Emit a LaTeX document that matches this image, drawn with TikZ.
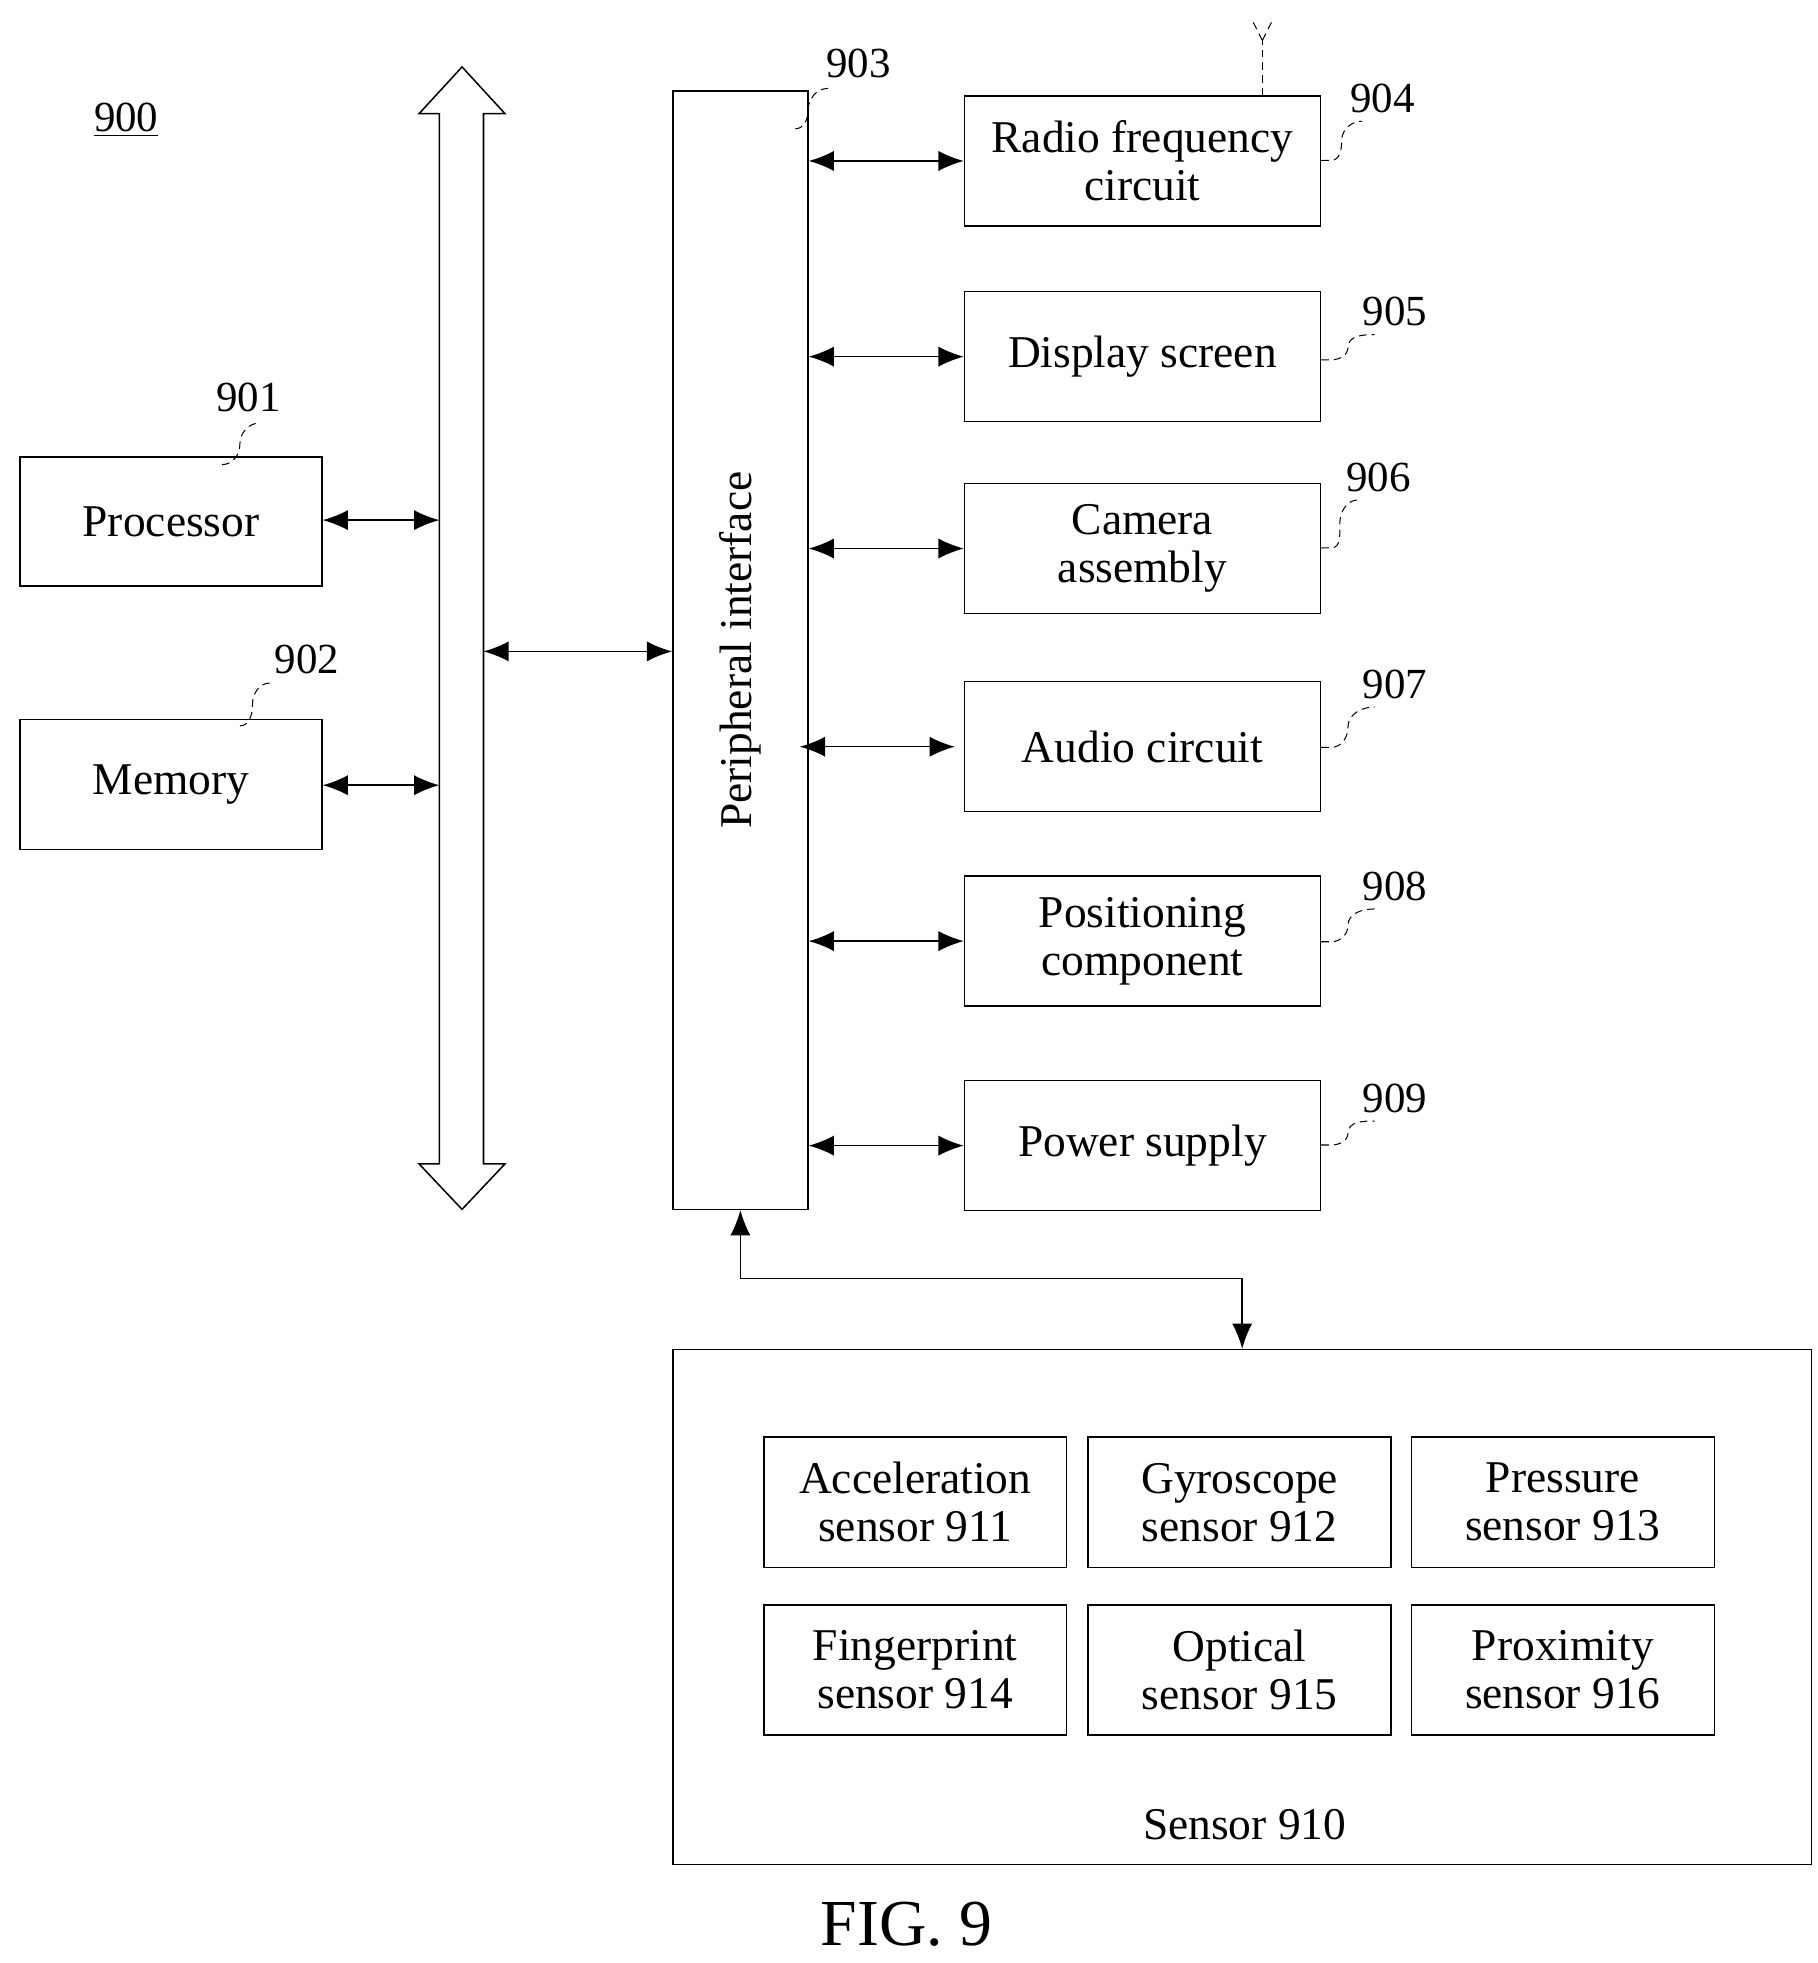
\documentclass[tikz,border=0pt]{standalone}
\usepackage{fontspec}
\setmainfont{Liberation Serif}
\usetikzlibrary{arrows.meta,calc}
\tikzset{%
	% Style of the block
	Block/.style={draw=black,semithick,align=center,inner sep=0,font=\fontsize{18}{19}\selectfont},
	% Style of the reference number
	RefName/.style={font=\fontsize{17}{18}\selectfont},
	% Style of the reference leader
	Leader/.style={densely dashed,thin},
	% Style of the connection
	Connection/.style={semithick,{Latex[length=10pt,width=8pt]}-{Latex[length=10pt,width=8pt]}},
}
\begin{document}
\begin{tikzpicture}[x=0.5pt,y=-0.5pt]
\useasboundingbox (0,0) rectangle (1440,1555);

%~~~~~~~~~~~~~~~~~~~~~~~~~~~~~~~~~~~~~~~~~~~~~~~~~~
% Set Blocks
%~~~~~~~~~~~~~~~~~~~~~~~~~~~~~~~~~~~~~~~~~~~~~~~~~~
\node[RefName] (L900) at (100,95) {\underline{900}};

\node[Block,minimum width=119.5pt,minimum height=51pt] (Proc) at (135.5,413) {Processor};
\node[Block,minimum width=119.5pt,minimum height=51.5pt] (Mem) at (135.5,621.5) {Memory};
\node[Block,minimum width=53.5pt,minimum height=443pt] (Peri) at (586.5,515) {};
\node[rotate=90,font=\fontsize{18}{19}\selectfont] at (Peri.center) {Peripheral interface};

% bus
\draw[semithick] (348,90) -- (348,922) -- (332,922) -- (366,958) -- (400,922) -- (383,922)
  -- (383,90) -- (400,90) -- (366,53) -- (332,90) -- cycle;
\coordinate (BusL1) at (348,412);
\coordinate (BusL2) at (348,622);
\coordinate (BusR) at (383,516);

\foreach \n/\y/\t in {904/127.5/{Radio frequency\\circuit},905/282.5/Display screen,
  906/434.5/{Camera\\assembly},907/591.5/Audio circuit,908/745.5/{Positioning\\component},
  909/907.5/Power supply}
  \node[Block,minimum width=141pt,minimum height=51.5pt] (B\n) at (905,\y) {\t};

\node[Block,minimum width=451pt,minimum height=204pt] (Sens) at (984,1273) {};
\node[font=\fontsize{18}{19}\selectfont] (SensName) at (986,1445) {Sensor 910};

\foreach \n/\x/\y/\t in {911/725/1190/Acceleration,912/982/1190/Gyroscope,913/1238/1190/Pressure,
  914/725/1323/Fingerprint,915/982/1323/Optical,916/1238/1323/Proximity}
  \node[Block,minimum width=120pt,minimum height=51.5pt] (S\n) at (\x,\y) {\t\\sensor \n};

\node[font=\fontsize{26}{28}\selectfont] (Fig) at (718,1524) {FIG. 9};

%~~~~~~~~~~~~~~~~~~~~~~~~~~~~~~~~~~~~~~~~~~~~~~~~~~
% Set Connections
%~~~~~~~~~~~~~~~~~~~~~~~~~~~~~~~~~~~~~~~~~~~~~~~~~~
\draw[Connection] (Proc.east |- BusL1) -- (BusL1);
\draw[Connection] (Mem.east |- BusL2) -- (BusL2);
\draw[Connection] (BusR) -- (Peri.west |- BusR);
\foreach \n in {904,905,906,908,909}
  \draw[Connection] (Peri.east |- B\n) -- (B\n.west);
\draw[Connection] ([xshift=-3.5pt]Peri.east |- B907) -- ([xshift=-3.5pt]B907.west);
\draw[Connection] (Peri.south) -- ++(0,54) -| (Sens.north);

% antenna
\draw[Leader] (B904.north -| 1000,0) -- (1000,32);
\draw[Leader] (1000,32) -- (992,16) (1000,32) -- (1008,16);

%~~~~~~~~~~~~~~~~~~~~~~~~~~~~~~~~~~~~~~~~~~~~~~~~~~
% Set Reference Numbers
%~~~~~~~~~~~~~~~~~~~~~~~~~~~~~~~~~~~~~~~~~~~~~~~~~~
\node[RefName] (L901) at (197,315) {901};
\node[RefName] (L902) at (243,522) {902};
\node[RefName] (L903) at (680,50) {903};
\draw[Leader] (176,368) to[out=0,in=-90] (190,352) to[out=90,in=180] (206,335);
\draw[Leader] (190,575) to[out=0,in=-90] (200,558) to[out=90,in=180] (214,541);
\draw[Leader] (630,102) to[out=0,in=-90] (640,88) to[out=90,in=180] (656,70);
\foreach \n/\x/\y/\p in {904/1095/78/127,905/1105/247/285,906/1092/378/434,
  907/1105/542/592,908/1105/702/746,909/1105/870/907}{
  \node[RefName] (L\n) at (\x,\y) {\n};
  \draw[Leader] (B\n.east |- 0,\p) -- ++(8,0) to[out=0,in=-90] ($(B\n.east |- 0,\p)!0.5!([shift={(-16,18)}]L\n.center)$)
    to[out=90,in=180] ([shift={(-16,18)}]L\n.center);
}
\end{tikzpicture}
\end{document}
